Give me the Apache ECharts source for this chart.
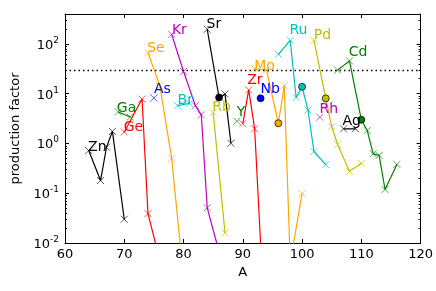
<!DOCTYPE html>
<html><head><meta charset="utf-8">
<script src="https://cdn.jsdelivr.net/npm/echarts@6/dist/echarts.min.js"></script>
<style>html,body{margin:0;padding:0;background:#fff}#c{width:436px;height:291px}</style>
</head><body><div id="c"></div>
<script>
// ---- data (A = mass number, PF = production factor) ----
const xTicks = [60, 70, 80, 90, 100, 110, 120];
const yTickExponents = [-2, -1, 0, 1, 2];
const refLevel = 30;

const A_Zn = [64, 66, 67, 68, 70];            const PF_Zn = [0.72, 0.18, 0.84, 1.75, 0.03];
const A_Ga = [69, 71];                        const PF_Ga = [4.3, 3.4];
const A_Ge = [70, 73, 74, 76];                const PF_Ge = [1.7, 7.8, 0.039, 0.0045];
const A_As = [75];                            const PF_As = [8.2];
const A_Se = [74, 76, 78, 80];                const PF_Se = [67, 14.5, 0.5, 0.002];
const A_Kr = [78, 80, 82, 83, 84, 86];        const PF_Kr = [156, 28, 5.75, 3.75, 0.051, 0.0066];
const A_Br = [79, 81];                        const PF_Br = [5.75, 6.4];
const A_Sr = [84, 86, 87, 88];                const PF_Sr = [197, 8.4, 9.9, 1.01];
const A_Rb = [85, 87];                        const PF_Rb = [4.2, 0.016];
const A_Y  = [89];                            const PF_Y  = [2.8];
const A_Zr = [90, 91, 92, 94];                const PF_Zr = [2.5, 11.9, 1.97, 0.00005];
const A_Nb = [93];                            const PF_Nb = [8.1];
const A_Mo = [92, 94, 96, 97, 98, 100];       const PF_Mo = [32, 30, 2.55, 14.5, 0.004, 0.099];
const A_Ru = [96, 98, 99, 100, 101, 102, 104]; const PF_Ru = [62, 118, 8.4, 13.8, 4.7, 0.69, 0.375];
const A_Rh = [103];                           const PF_Rh = [3.36];
const A_Pd = [102, 104, 105, 106, 108, 110];  const PF_Pd = [119, 8.06, 2.19, 0.955, 0.275, 0.40];
const A_Ag = [107, 109];                      const PF_Ag = [1.97, 1.97];
const A_Cd = [106, 108, 110, 111, 112, 113, 114, 116]; const PF_Cd = [29.8, 45.7, 3.0, 1.82, 0.62, 0.575, 0.119, 0.38];

// isotopes drawn with a filled circle
const circleIsotopes = { Sr: [86], Nb: [93], Mo: [96], Ru: [100], Pd: [104], Cd: [110] };

// ---- styles ----
const COL = { k: '#000000', g: '#008000', r: '#ff0000', b: '#0000ff', o: '#ffa500', m: '#bf00bf', c: '#00bfbf', y: '#bfbf00' };
const elements = [
  ['Zn', A_Zn, PF_Zn, COL.k, 0, [8.6, -3.3]],
  ['Ga', A_Ga, PF_Ga, COL.g, 0, [8.2, -3.5]],
  ['Ge', A_Ge, PF_Ge, COL.r, 0, [9.2, -4.8]],
  ['As', A_As, PF_As, COL.b, 0, [8.5, -8.5]],
  ['Se', A_Se, PF_Se, COL.o, 0, [8, -4.5]],
  ['Kr', A_Kr, PF_Kr, COL.m, 0, [7.7, -4.3]],
  ['Br', A_Br, PF_Br, COL.c, 0, [7.6, -5]],
  ['Sr', A_Sr, PF_Sr, COL.k, 0, [6.6, -4.5]],
  ['Rb', A_Rb, PF_Rb, COL.y, 0, [8.5, -5.5]],
  ['Y',  A_Y,  PF_Y,  COL.g, 0, [4.2, -9.3]],
  ['Zr', A_Zr, PF_Zr, COL.r, 1, [6.2, -10.1]],
  ['Nb', A_Nb, PF_Nb, COL.b, 0, [9.6, -8.5]],
  ['Mo', A_Mo, PF_Mo, COL.o, 0, [9.8, -2.7]],
  ['Ru', A_Ru, PF_Ru, COL.c, 1, [8.2, -9.9]],
  ['Rh', A_Rh, PF_Rh, COL.m, 0, [8.9, -8.4]],
  ['Pd', A_Pd, PF_Pd, COL.y, 0, [8.5, -4.4]],
  ['Ag', A_Ag, PF_Ag, COL.k, 0, [8.1, -7.5]],
  ['Cd', A_Cd, PF_Cd, COL.g, 1, [8.6, -8.7]]
];

const FONT = 'DejaVu Sans';
const X_SYMBOL = 'path://M0,0L10,10M10,0L0,10';
function fade(hex, a) {
  const n = parseInt(hex.slice(1), 16);
  return 'rgba(' + (n >> 16) + ',' + ((n >> 8) & 255) + ',' + (n & 255) + ',' + a + ')';
}

const series = elements.map(([name, A, PF, color, labIdx, labOff]) => {
  const circ = circleIsotopes[name] || [];
  const data = A.map((a, i) => {
    const d = { value: [a, PF[i]] };
    if (circ.indexOf(a) >= 0) {
      d.symbol = 'circle';
      d.symbolSize = 7;
      d.itemStyle = { color: color, borderColor: '#000', borderWidth: 0.7 };
    }
    if (i === labIdx) {
      d.label = { show: true, formatter: name, position: 'inside', offset: labOff,
                  color: color, fontSize: 14, fontFamily: FONT, opacity: 1 };
    }
    return d;
  });
  return {
    type: 'line', name: name, data: data,
    xAxisIndex: 0, yAxisIndex: 0,
    symbol: X_SYMBOL, symbolSize: 7, showSymbol: true,
    lineStyle: { color: color, width: 1.2 },
    itemStyle: { color: fade(color, 0.65), borderColor: fade(color, 0.65), borderWidth: 1 },
    label: { show: false },
    emphasis: { disabled: true },
    clip: true, z: 3
  };
});

// reference dotted level
series.push({
  type: 'line', data: [], xAxisIndex: 0, yAxisIndex: 0,
  markLine: {
    silent: true, symbol: ['none', 'none'], label: { show: false },
    lineStyle: { color: '#000', width: 1.3, type: [1.5, 3] },
    data: [{ yAxis: refLevel }]
  }
});

const minorTicks = [];
yTickExponents.forEach(e => { for (let m = 2; m <= 9; m++) { const v = m * Math.pow(10, e); if (v <= 400) minorTicks.push(+v.toPrecision(3)); } });

const ax = { color: '#000', width: 1 };
const yBase = { type: 'log', logBase: 10, min: 0.01, max: 400, splitLine: { show: false } };

const chart = echarts.init(document.getElementById('c'));
chart.setOption({
  animation: false,
  grid: { left: 65, right: 13, top: 14, bottom: 48 },
  xAxis: [
    { type: 'value', min: 60, max: 120, interval: 10, position: 'bottom',
      axisLine: { onZero: false, lineStyle: ax }, splitLine: { show: false },
      axisTick: { inside: true, length: 4, lineStyle: ax },
      axisLabel: { color: '#000', fontSize: 13, fontFamily: FONT, margin: 5 },
      name: 'A', nameLocation: 'middle', nameGap: 20,
      nameTextStyle: { color: '#000', fontSize: 13, fontFamily: FONT } },
    { type: 'value', min: 60, max: 120, interval: 10, position: 'top',
      axisLine: { onZero: false, lineStyle: ax }, splitLine: { show: false },
      axisTick: { inside: true, length: 4, lineStyle: ax }, axisLabel: { show: false } }
  ],
  yAxis: [
    Object.assign({}, yBase, { position: 'left',
      axisLine: { show: true, onZero: false, lineStyle: ax },
      axisTick: { show: true, inside: true, length: 4, lineStyle: ax },
      axisLabel: { color: '#000', fontFamily: FONT, margin: 6,
        formatter: v => {
          const e = Math.log10(v), r = Math.round(e);
          if (Math.abs(e - r) > 1e-6) return '';
          return '{b|10}{s|' + r + '}';
        },
        rich: { b: { fontSize: 13, fontFamily: FONT, color: '#000', verticalAlign: 'bottom' },
                s: { fontSize: 9, fontFamily: FONT, color: '#000', verticalAlign: 'bottom', padding: [0, 0, 7, 0] } } },
      name: 'production factor', nameLocation: 'middle', nameGap: 36,
      nameTextStyle: { color: '#000', fontSize: 13, fontFamily: FONT } }),
    Object.assign({}, yBase, { position: 'right',
      axisLine: { show: true, onZero: false, lineStyle: ax },
      axisTick: { show: true, inside: true, length: 4, lineStyle: ax }, axisLabel: { show: false } }),
    Object.assign({}, yBase, { position: 'left',
      axisLine: { show: false, onZero: false },
      axisTick: { show: true, inside: true, length: 2, lineStyle: ax, customValues: minorTicks },
      axisLabel: { show: false } }),
    Object.assign({}, yBase, { position: 'right',
      axisLine: { show: false, onZero: false },
      axisTick: { show: true, inside: true, length: 2, lineStyle: ax, customValues: minorTicks },
      axisLabel: { show: false } })
  ],
  series: series
});
</script></body></html>
